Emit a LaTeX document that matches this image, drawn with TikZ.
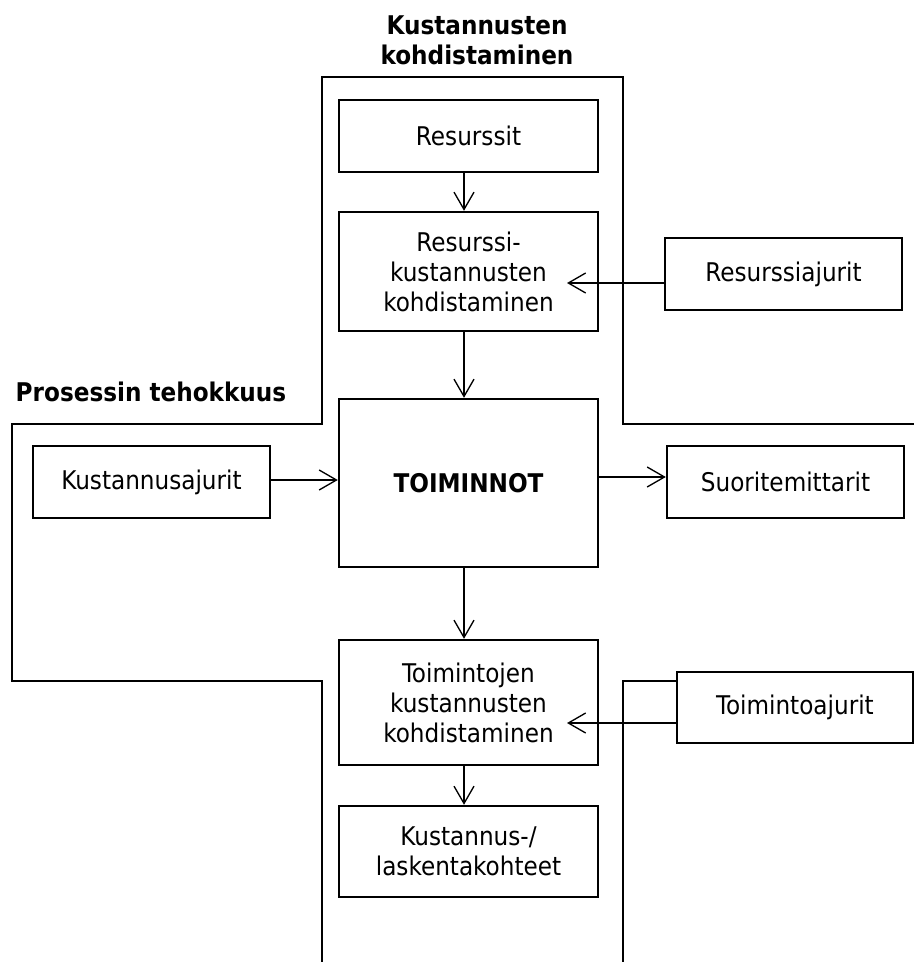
\documentclass[tikz,border=0pt]{standalone}
\usepackage{fontspec}
\setmainfont{DejaVu Sans Condensed}
\usetikzlibrary{arrows.meta}
\begin{document}
\begin{tikzpicture}[x=0.75pt,y=-0.75pt,
  every node/.style={font=\fontsize{19.3pt}{22.5pt}\selectfont, align=center},
  box/.style={draw, line width=1.8pt, inner sep=0pt},
  outline/.style={line width=1.8pt},
  arr/.style={line width=1pt, -{Straight Barb[length=13pt,width=15pt,line width=1pt]}},
  ttl/.style={font=\fontsize{19.3pt}{22.5pt}\selectfont\bfseries}]
\useasboundingbox (0,0) rectangle (914,962);
% outline
\draw[outline] (322,962) -- (322,681) -- (12,681) -- (12,424) -- (322,424)
  -- (322,77) -- (623,77) -- (623,424) -- (914,424);
% titles
\node[ttl] (t1) at (477,40) {Kustannusten\\kohdistaminen};
\node[ttl] (t2) at (151,392) {Prosessin tehokkuus};
% boxes
\node[box, minimum width=194.25pt, minimum height=54pt] (res) at (468.5,136) {Resurssit};
\node[box, minimum width=194.25pt, minimum height=89.25pt] (resk) at (468.5,271.5) {Resurssi-\\kustannusten\\kohdistaminen};
\node[box, minimum width=177.75pt, minimum height=54pt] (resaj) at (783.5,274) {Resurssiajurit};
\node[box, minimum width=194.25pt, minimum height=126pt] (toi) at (468.5,483) {\bfseries TOIMINNOT};
\node[box, minimum width=177.75pt, minimum height=54pt] (kaj) at (151.5,482) {Kustannusajurit};
\node[box, minimum width=177.75pt, minimum height=54pt] (suo) at (785.5,482) {Suoritemittarit};
\node[box, minimum width=194.25pt, minimum height=93.75pt] (toim) at (468.5,702.5) {Toimintojen\\kustannusten\\kohdistaminen};
\node[box, minimum width=177pt, minimum height=53.25pt] (toimaj) at (795,707.5) {Toimintoajurit};
\node[box, minimum width=194.25pt, minimum height=68.25pt] (kust) at (468.5,851.5) {Kustannus-/\\laskentakohteet};
% right lower outline
\draw[outline] (623,962) -- (623,681) -- (toimaj.west |- 0,681);
% connectors
\coordinate (cx) at (464,0);
\coordinate (rt) at (567,283);
\coordinate (tt) at (567,723);
\draw[arr] (res.south -| cx) -- (resk.north -| cx);
\draw[arr] (resk.south -| cx) -- (toi.north -| cx);
\draw[arr] (toi.south -| cx) -- (toim.north -| cx);
\draw[arr] (toim.south -| cx) -- (kust.north -| cx);
\draw[arr] (resaj.west |- rt) -- (rt);
\draw[arr] (toimaj.west |- tt) -- (tt);
\draw[arr] (kaj.east |- 0,480) -- (toi.west |- 0,480);
\draw[arr] (toi.east |- 0,477) -- (suo.west |- 0,477);
\end{tikzpicture}
\end{document}
